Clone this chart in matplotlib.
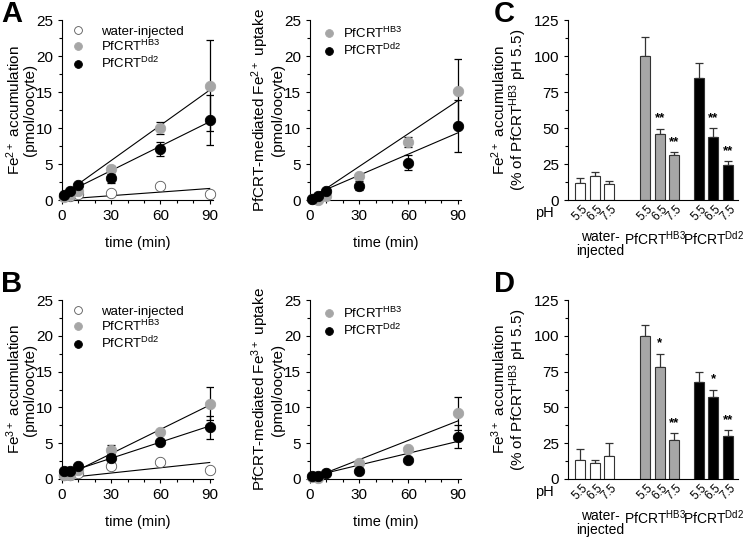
import numpy as np
import matplotlib
matplotlib.use("Agg")
import matplotlib.pyplot as plt
from matplotlib.ticker import MultipleLocator

plt.rcParams['font.family'] = ['Liberation Sans', 'DejaVu Sans']
plt.rcParams['font.size'] = 10
plt.rcParams['mathtext.default'] = 'regular'

# ---------------- data ----------------
time = [1, 5, 10, 30, 60, 90]

# Fe2+ accumulation (A, left)
fe2_water = [0.5, 0.6, 0.9, 1.0, 1.9, 0.8]
fe2_hb3 = [0.4, 0.7, 1.3, 4.3, 10.0, 15.9]
fe2_hb3_err = [0, 0, 0.3, 0.4, 0.8, 6.3]
fe2_dd2 = [0.7, 1.2, 2.1, 3.0, 7.1, 11.1]
fe2_dd2_err = [0, 0, 0, 0.6, 1.0, 3.5]
fe2_fit = {'water': (0.0167, 0.1), 'hb3': (0.163, 0.6), 'dd2': (0.113, 0.7)}

# PfCRT-mediated Fe2+ uptake (A, right)
fe2m_hb3 = [0.2, 0.0, 0.6, 3.3, 8.1, 15.1]
fe2m_hb3_err = [0, 0, 0, 0.3, 0.7, 4.5]
fe2m_dd2 = [0.2, 0.6, 1.3, 2.0, 5.2, 10.3]
fe2m_dd2_err = [0, 0, 0, 0.6, 1.0, 3.6]
fe2m_fit = {'hb3': (0.152, 0.1), 'dd2': (0.098, 0.5)}

# Fe3+ accumulation (B, left)
fe3_water = [0.5, 0.5, 0.8, 1.8, 2.4, 1.3]
fe3_hb3 = [0.6, 0.6, 1.2, 4.1, 6.6, 10.5]
fe3_hb3_err = [0, 0, 0, 0.6, 0, 2.3]
fe3_dd2 = [1.1, 1.1, 1.8, 3.0, 5.1, 7.2]
fe3_dd2_err = [0, 0, 0, 0.5, 0, 1.6]
fe3_fit = {'water': (0.0245, 0.1), 'hb3': (0.113, 0.15), 'dd2': (0.075, 0.65)}

# PfCRT-mediated Fe3+ uptake (B, right)
fe3m_hb3 = [0.3, 0.1, 0.8, 2.2, 4.2, 9.2]
fe3m_hb3_err = [0, 0, 0, 0.3, 0, 2.3]
fe3m_dd2 = [0.4, 0.4, 0.8, 1.1, 2.7, 5.9]
fe3m_dd2_err = [0, 0, 0, 0.4, 0, 1.6]
fe3m_fit = {'hb3': (0.09, 0.0), 'dd2': (0.055, 0.3)}

# pH dependence (C, D)
ph_labels = ['5.5', '6.5', '7.5']
groups = ['water-\ninjected', 'PfCRT$^{HB3}$', 'PfCRT$^{Dd2}$']
c_vals = [[12, 17, 11], [100, 46, 31], [85, 44, 24]]
c_errs = [[3, 2.5, 2.5], [13, 3.5, 2], [10, 6, 3]]
c_stars = [['', '', ''], ['', '**', '**'], ['', '**', '**']]
d_vals = [[13, 11, 16], [100, 78, 27], [68, 57, 30]]
d_errs = [[8, 2, 9], [7.5, 9.5, 5], [6.5, 5.5, 4]]
d_stars = [['', '', ''], ['', '*', '**'], ['', '*', '**']]

GREY = '#a6a6a6'
W, H = 745, 539
LAB = 11      # axis label size
TICK = 11     # tick label size


def ax_at(x0, y0, x1, y1):
    # pixel box -> figure axes
    return fig.add_axes([x0 / W, 1 - y1 / H, (x1 - x0) / W, (y1 - y0) / H])


def style_time_axis(ax, ylabel):
    ax.set_xlim(0, 92)
    ax.set_ylim(0, 25)
    for s in ['top', 'right']:
        ax.spines[s].set_visible(False)
    ax.xaxis.set_major_locator(MultipleLocator(30))
    ax.xaxis.set_minor_locator(MultipleLocator(10))
    ax.yaxis.set_major_locator(MultipleLocator(5))
    ax.yaxis.set_minor_locator(MultipleLocator(2.5))
    ax.tick_params(which='both', direction='out', length=3, width=0.8, labelsize=TICK)
    ax.tick_params(which='minor', length=2)
    ax.set_xlabel('time (min)', fontsize=10.5, labelpad=9)
    ax.set_ylabel(ylabel, fontsize=LAB, linespacing=1.0, labelpad=-1)


def draw_series(ax, y, err, face, edge, label, fit):
    xs = np.array([0, 90])
    ax.plot(xs, fit[0] * xs + fit[1], color='black', lw=0.8, zorder=2)
    if err is not None:
        ax.errorbar(time, y, yerr=err, fmt='none', ecolor='black', elinewidth=0.9,
                    capsize=3, capthick=0.9, zorder=3)
    ax.plot(time, y, 'o', ms=7.5, mfc=face, mec=edge, mew=0.6, ls='none',
            label=label, zorder=4, clip_on=False)


def time_panel(ax, series, ylabel, textpad, x_anchor):
    for y, err, face, edge, label, fit in series:
        draw_series(ax, y, err, face, edge, label, fit)
    style_time_axis(ax, ylabel)
    ax.legend(loc='upper left', frameon=False, fontsize=9.5, handletextpad=textpad,
              handlelength=1.0, borderaxespad=0.0, borderpad=0.0, markerscale=0.75,
              bbox_to_anchor=(x_anchor, 0.97), labelspacing=0.08)


def bar_panel(ax, vals, errs, stars, ylabel):
    pos = [[0, 1, 2], [4.5, 5.5, 6.5], [8.2, 9.2, 10.2]]
    label_x = [1.4, 5.2, 9.2]
    faces = ['white', GREY, 'black']
    for g in range(3):
        ax.bar(pos[g], vals[g], width=0.7, color=faces[g], edgecolor='#333333',
               linewidth=0.8, zorder=2)
        ax.errorbar(pos[g], vals[g], yerr=[[0] * 3, errs[g]], fmt='none',
                    ecolor='#333333', elinewidth=0.9, capsize=3, capthick=0.9, zorder=1)
        for p, v, e, s in zip(pos[g], vals[g], errs[g], stars[g]):
            if s:
                ax.text(p, v + e + 3, s, ha='center', va='bottom', fontsize=9.5,
                        fontweight='bold')
    ax.set_xlim(-0.85, 10.9)
    ax.set_ylim(0, 125)
    for s in ['top', 'right']:
        ax.spines[s].set_visible(False)
    ax.yaxis.set_major_locator(MultipleLocator(25))
    ax.yaxis.set_minor_locator(MultipleLocator(12.5))
    ax.tick_params(axis='y', which='both', direction='out', length=3, width=0.8,
                   labelsize=TICK)
    ax.tick_params(axis='y', which='minor', length=2)
    flat = [p for g in pos for p in g]
    ax.set_xticks(flat)
    ax.set_xticklabels(ph_labels * 3, rotation=45, fontsize=8.5)
    ax.tick_params(axis='x', length=0, pad=2)
    ax.set_ylabel(ylabel, fontsize=LAB, linespacing=1.0, labelpad=3)
    ax.text(-0.085, -0.07, 'pH', transform=ax.transAxes, fontsize=10.5,
            ha='right', va='center')
    for g in range(3):
        ax.text(label_x[g], -0.165, groups[g], transform=ax.get_xaxis_transform(),
                ha='center', va='top', fontsize=10, linespacing=1.0)


fig = plt.figure(figsize=(7.45, 5.39), dpi=100)

# A
axA1 = ax_at(62, 20, 213, 200)
time_panel(axA1, [
    (fe2_water, None, 'white', '#555555', 'water-injected', fe2_fit['water']),
    (fe2_hb3, fe2_hb3_err, GREY, GREY, 'PfCRT$^{HB3}$', fe2_fit['hb3']),
    (fe2_dd2, fe2_dd2_err, 'black', 'black', 'PfCRT$^{Dd2}$', fe2_fit['dd2']),
], 'Fe$^{2+}$ accumulation\n(pmol/oocyte)', 1.3, 0.06)

axA2 = ax_at(310, 20, 461, 200)
time_panel(axA2, [
    (fe2m_hb3, fe2m_hb3_err, GREY, GREY, 'PfCRT$^{HB3}$', fe2m_fit['hb3']),
    (fe2m_dd2, fe2m_dd2_err, 'black', 'black', 'PfCRT$^{Dd2}$', fe2m_fit['dd2']),
], 'PfCRT-mediated Fe$^{2+}$ uptake\n(pmol/oocyte)', 0.5, 0.085)

# B
axB1 = ax_at(62, 300, 213, 479)
time_panel(axB1, [
    (fe3_water, None, 'white', '#555555', 'water-injected', fe3_fit['water']),
    (fe3_hb3, fe3_hb3_err, GREY, GREY, 'PfCRT$^{HB3}$', fe3_fit['hb3']),
    (fe3_dd2, fe3_dd2_err, 'black', 'black', 'PfCRT$^{Dd2}$', fe3_fit['dd2']),
], 'Fe$^{3+}$ accumulation\n(pmol/oocyte)', 1.3, 0.06)

axB2 = ax_at(310, 300, 461, 479)
time_panel(axB2, [
    (fe3m_hb3, fe3m_hb3_err, GREY, GREY, 'PfCRT$^{HB3}$', fe3m_fit['hb3']),
    (fe3m_dd2, fe3m_dd2_err, 'black', 'black', 'PfCRT$^{Dd2}$', fe3m_fit['dd2']),
], 'PfCRT-mediated Fe$^{3+}$ uptake\n(pmol/oocyte)', 0.5, 0.085)

# C, D
axC = ax_at(568, 20, 738, 200)
bar_panel(axC, c_vals, c_errs, c_stars,
          'Fe$^{2+}$ accumulation\n(% of PfCRT$^{HB3}$ pH 5.5)')
axD = ax_at(568, 300, 738, 479)
bar_panel(axD, d_vals, d_errs, d_stars,
          'Fe$^{3+}$ accumulation\n(% of PfCRT$^{HB3}$ pH 5.5)')

for lab, (px, py) in {'A': (1, 14), 'B': (1, 284), 'C': (494, 14), 'D': (494, 284)}.items():
    fig.text(px / W, 1 - py / H, lab, fontsize=21, fontweight='bold', ha='left', va='center')

fig.savefig('out.png', dpi=100)
